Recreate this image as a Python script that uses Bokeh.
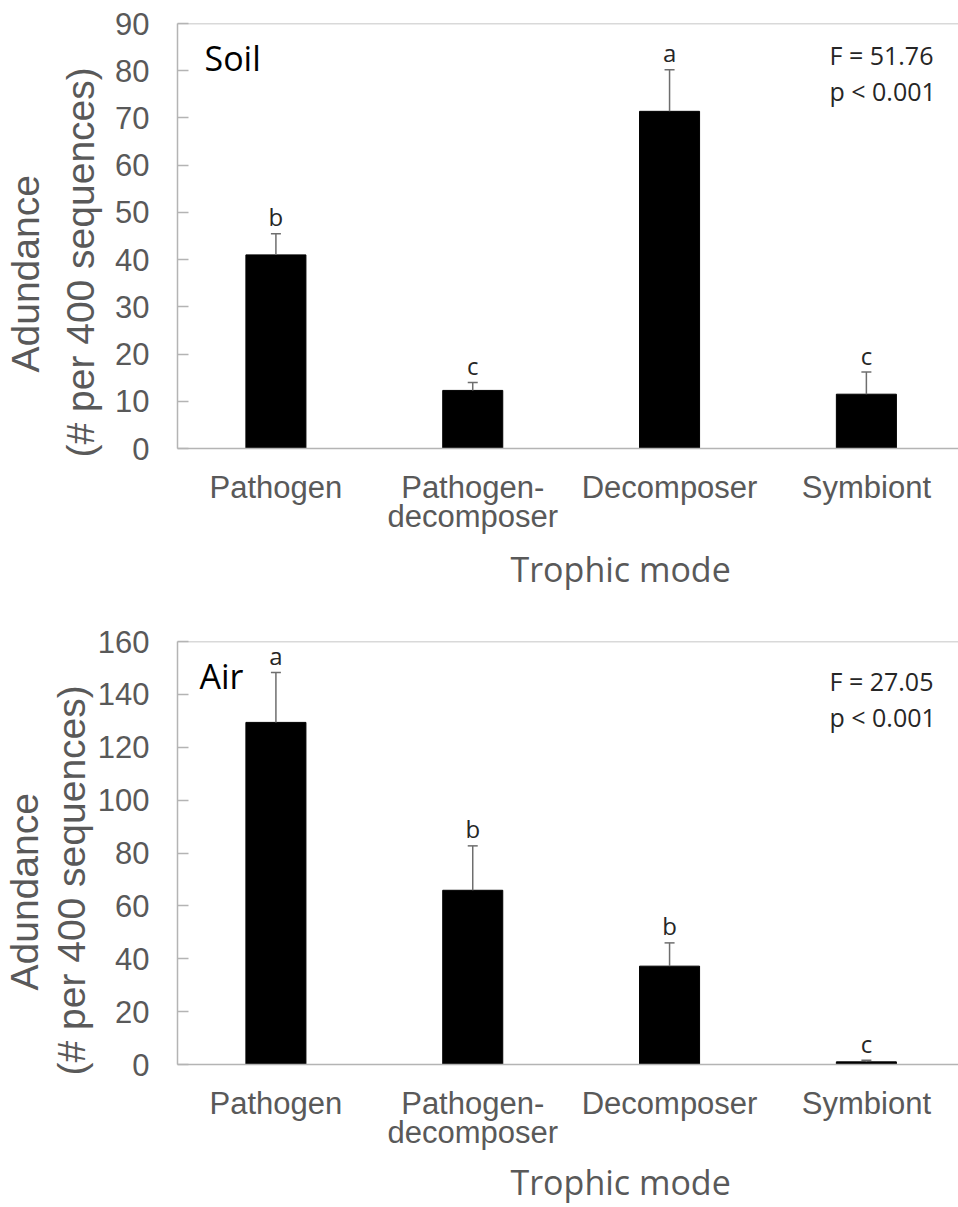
from bokeh.plotting import figure
from bokeh.layouts import column
from bokeh.models import FixedTicker, Span, Label, Title, ColumnDataSource
from bokeh.core.properties import value
from bokeh.embed import file_html
from bokeh.resources import INLINE

# ---------------- data ----------------
categories = ["Pathogen", "Pathogen-\ndecomposer", "Decomposer", "Symbiont"]

soil_mean = [41.0, 12.3, 71.4, 11.5]
soil_se = [4.5, 1.7, 8.8, 4.7]
soil_letters = ["b", "c", "a", "c"]
soil_ticks = [0, 10, 20, 30, 40, 50, 60, 70, 80, 90]
soil_stats = ["F = 51.76", "p < 0.001"]

air_mean = [129.4, 65.9, 37.2, 1.0]
air_se = [18.9, 16.8, 8.8, 0.6]
air_letters = ["a", "b", "b", "c"]
air_ticks = [0, 20, 40, 60, 80, 100, 120, 140, 160]
air_stats = ["F = 27.05", "p < 0.001"]

y_label_1 = "Adundance"
y_label_2 = "(# per 400 sequences)"
x_label = "Trophic mode"

# ---------------- style ----------------
GRAY_TXT = "#595959"
AXIS_GRAY = "#b4b4b4"
ERR_GRAY = "#6e6e6e"
X_START, X_END = -0.5, 3.468


def panel(tag, means, ses, letters, ticks, stats, height, border_top,
          border_bottom, t1_standoff, tag_dx, tag_dy, stat_dy,
          off1, off2, xt_standoff):
    ymax = ticks[-1]
    p = figure(width=958, height=height, x_range=(X_START, X_END),
               y_range=(0, ymax), output_backend="svg",
               toolbar_location=None, min_border_left=175,
               min_border_right=0, min_border_top=border_top,
               min_border_bottom=border_bottom)
    p.outline_line_color = None
    p.xgrid.visible = False
    p.ygrid.visible = False
    p.background_fill_color = "white"
    p.border_fill_color = "white"

    xs = list(range(len(means)))
    tops = [m + s for m, s in zip(means, ses)]
    src = ColumnDataSource(dict(x=xs, m=means, t=tops, lab=letters))

    p.vbar(x="x", top="m", bottom=0, width=0.305, source=src,
           fill_color="black", line_color="black")
    p.segment(x0="x", y0="m", x1="x", y1="t", source=src,
              line_color=ERR_GRAY, line_width=1.5)
    p.scatter(x="x", y="t", marker="dash", size=10, source=src,
              line_color=ERR_GRAY, line_width=1.5)
    p.text(x="x", y="t", text="lab", source=src, text_align="center",
           text_baseline="alphabetic", y_offset=-17,
           text_font=value("Open Sans"), text_font_size="24px",
           text_color="#262626")

    # y axis
    yax = p.yaxis[0]
    yax.ticker = FixedTicker(ticks=ticks)
    yax.major_tick_in = 11
    yax.major_tick_out = 0
    yax.minor_tick_line_color = None
    yax.major_tick_line_color = AXIS_GRAY
    yax.major_tick_line_width = 1.5
    yax.axis_line_color = AXIS_GRAY
    yax.axis_line_width = 1.5
    yax.major_label_text_font = "Liberation Sans"
    yax.major_label_text_font_size = "31px"
    yax.major_label_text_color = GRAY_TXT
    yax.major_label_standoff = 28

    # x axis
    xax = p.xaxis[0]
    xax.ticker = FixedTicker(ticks=xs)
    xax.major_label_overrides = {i: c for i, c in enumerate(categories)}
    xax.major_tick_line_color = None
    xax.minor_tick_line_color = None
    xax.axis_line_color = AXIS_GRAY
    xax.axis_line_width = 1.5
    xax.major_label_text_font = "Liberation Sans"
    xax.major_label_text_font_size = "31px"
    xax.major_label_text_line_height = 0.85
    xax.major_label_text_color = GRAY_TXT
    xax.major_label_standoff = 15

    # top border
    p.add_layout(Span(location=ymax, dimension="width",
                      line_color=AXIS_GRAY, line_width=1.5))

    # y axis titles (two lines)
    p.add_layout(Title(text=y_label_2, align="left", offset=off2,
                       text_font="Liberation Sans", text_font_size="39px",
                       text_font_style="normal", text_color=GRAY_TXT,
                       standoff=t1_standoff), "left")
    p.add_layout(Title(text=y_label_1, align="left", offset=off1,
                       text_font="Liberation Sans", text_font_size="39px",
                       text_font_style="normal", text_color=GRAY_TXT,
                       standoff=0), "left")
    # x axis title
    p.add_layout(Title(text=x_label, align="left", offset=333,
                       text_font="Open Sans", text_font_size="34px",
                       text_font_style="normal", text_color=GRAY_TXT,
                       standoff=xt_standoff), "below")

    # panel tag and statistics
    p.add_layout(Label(x=X_START, y=ymax, x_offset=tag_dx, y_offset=-tag_dy,
                       text=tag, text_font="Open Sans",
                       text_font_size="34px", text_color="black",
                       text_baseline="alphabetic"))
    for i, s in enumerate(stats):
        p.add_layout(Label(x=X_START, y=ymax, x_offset=652,
                           y_offset=-(stat_dy + 36 * i), text=s,
                           text_font="Open Sans", text_font_size="25px",
                           text_color="#262626",
                           text_baseline="alphabetic"))
    return p


p1 = panel("Soil", soil_mean, soil_se, soil_letters, soil_ticks, soil_stats,
           height=605, border_top=23, border_bottom=157, t1_standoff=21,
           tag_dx=27, tag_dy=34, stat_dy=31, off1=76, off2=-9,
           xt_standoff=12)
p2 = panel("Air", air_mean, air_se, air_letters, air_ticks, air_stats,
           height=602, border_top=36, border_bottom=143, t1_standoff=4,
           tag_dx=22, tag_dy=34, stat_dy=39, off1=74, off2=-11,
           xt_standoff=6)

layout = column(p1, p2, spacing=0)
open("out.html", "w").write(file_html(layout, INLINE))
